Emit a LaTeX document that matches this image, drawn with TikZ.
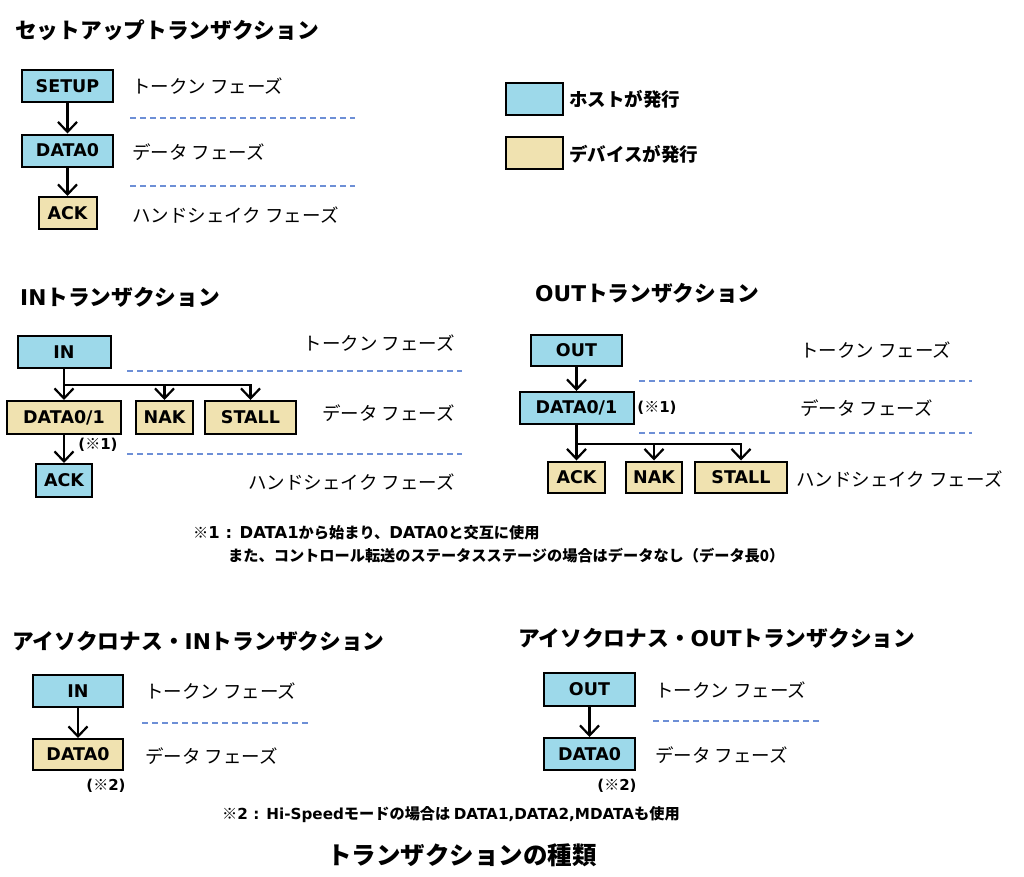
\documentclass[tikz,border=0pt]{standalone}
\usepackage{fontspec}
\setmainfont{Noto Sans CJK JP}
\newfontfamily\dvfont{DejaVu Sans}
\usetikzlibrary{arrows.meta}
\definecolor{hostc}{HTML}{9DD9EA}
\definecolor{devc}{HTML}{F0E2B0}
\definecolor{sepc}{HTML}{6D8FD6}
\newcommand\latn[1]{{\dvfont\bfseries #1}}
\newcommand\latnb[1]{{\dvfont\bfseries\fontsize{16.4}{16.4}\selectfont #1}}
\tikzset{
  pbox/.style={draw=black, line width=2pt, minimum height=32pt, inner sep=0pt,
    font=\dvfont\bfseries\fontsize{17.5}{17.5}\selectfont},
  host/.style={pbox, fill=hostc},
  dev/.style={pbox, fill=devc},
  arr/.style={line width=2.2pt, -{Straight Barb[length=10pt,width=19pt]}},
  phase/.style={anchor=west, inner sep=0pt, font=\fontsize{18.5}{18.5}\selectfont},
  phaser/.style={phase, anchor=east},
  legtxt/.style={anchor=west, inner sep=0pt, font=\bfseries\fontsize{18.5}{18.5}\selectfont},
  ttl/.style={anchor=west, inner sep=0pt, font=\bfseries\fontsize{21.7}{21.7}\selectfont},
  note/.style={anchor=west, inner sep=0pt, font=\bfseries\fontsize{15.2}{15.2}\selectfont},
  ref/.style={inner sep=0pt, font=\bfseries\fontsize{15}{15}\selectfont},
  sep/.style={draw=sepc, line width=1.5pt, dash pattern=on 6pt off 4pt},
}
\begin{document}
\begin{tikzpicture}[x=1pt,y=-1pt]
\useasboundingbox (0,0) rectangle (1024,876);

% ---------- Setup transaction ----------
\node[ttl] (t1) at (15,30) {セットアップトランザクション};
\node[host, minimum width=91pt] (setup) at (67.5,86) {SETUP};
\node[host, minimum width=91pt] (sdata) at (67.5,150.5) {DATA0};
\node[dev, minimum width=58pt] (sack) at (67.5,213) {ACK};
\draw[arr] (setup.south) -- (sdata.north);
\draw[arr] (sdata.south) -- (sack.north);
\node[phase] (s1) at (132,86) {トークン フェーズ};
\node[phase] (s2) at (132,152) {データ フェーズ};
\node[phase] (s3) at (132,215) {ハンドシェイク フェーズ};
\draw[sep] (130,118) -- (355,118);
\draw[sep] (130,186) -- (355,186);

% ---------- Legend ----------
\node[host, minimum width=57pt] (lh) at (534.5,99) {};
\node[legtxt] (lht) at (569,99) {ホストが発行};
\node[dev, minimum width=57pt] (ld) at (534.5,153) {};
\node[legtxt] (ldt) at (569,154) {デバイスが発行};

% ---------- IN transaction ----------
\node[ttl] (t2) at (20,297) {\latn{IN}トランザクション};
\node[host, minimum width=93pt] (in) at (64,352) {IN};
\node[dev, minimum width=114pt, minimum height=33pt] (indata) at (64,417.5) {DATA0/1};
\node[dev, minimum width=57pt, minimum height=33pt] (innak) at (164.5,417.5) {NAK};
\node[dev, minimum width=91pt, minimum height=33pt] (install) at (250.5,417.5) {STALL};
\node[host, minimum width=56pt, minimum height=33pt] (inack) at (64,480.5) {ACK};
\coordinate (inb) at (64,385);
\draw[arr] (in.south) -- (indata.north);
\draw[arr] (inb) -| (install.north);
\draw[arr] (inb -| innak.north) -- (innak.north);
\draw[arr] (indata.south) -- (inack.north);
\node[ref] (r1) at (98,445) {\latn{(}※\latn{1)}};
\draw[sep] (127,371) -- (462,371);
\draw[sep] (127,454) -- (462,454);
\node[phaser] (i1) at (455,343) {トークン フェーズ};
\node[phaser] (i2) at (455,413) {データ フェーズ};
\node[phaser] (i3) at (455,482) {ハンドシェイク フェーズ};

% ---------- OUT transaction ----------
\node[ttl] (t3) at (535,293) {\latn{OUT}トランザクション};
\node[host, minimum width=91pt, minimum height=31pt] (out) at (576.5,350) {OUT};
\node[host, minimum width=114pt] (odata) at (576.5,408) {DATA0/1};
\node[dev, minimum width=57pt, minimum height=31pt] (oack) at (576.5,477) {ACK};
\node[dev, minimum width=56pt, minimum height=31pt] (onak) at (654,477) {NAK};
\node[dev, minimum width=92pt, minimum height=31pt] (ostall) at (741,477) {STALL};
\coordinate (ob) at (576.5,444);
\draw[arr] (out.south) -- (odata.north);
\draw[arr] (odata.south) -- (oack.north);
\draw[arr] (ob) -| (ostall.north);
\draw[arr] (ob -| onak.north) -- (onak.north);
\node[ref] (r2) at (657,408) {\latn{(}※\latn{1)}};
\draw[sep] (639,381) -- (972,381);
\draw[sep] (639,433) -- (972,433);
\node[phase] (o1) at (800,350) {トークン フェーズ};
\node[phase] (o2) at (800,408) {データ フェーズ};
\node[phase] (o3) at (796,479) {ハンドシェイク フェーズ};

% ---------- Note 1 ----------
\node[note] (n1a) at (193,533) {※\latnb{1 : DATA1}から始まり、\latnb{DATA0}と交互に使用};
\node[note] (n1b) at (228,556) {また、コントロール転送のステータスステージの場合はデータなし（データ長0）};

% ---------- Isochronous IN ----------
\node[ttl] (t4) at (12,641) {アイソクロナス・\latn{IN}トランザクション};
\node[host, minimum width=90pt] (iin) at (78,691) {IN};
\node[dev, minimum width=90pt, minimum height=31pt] (idata) at (78,754.5) {DATA0};
\draw[arr] (iin.south) -- (idata.north);
\node[ref] (r3) at (106,786) {\latn{(}※\latn{2)}};
\node[phase] (ii1) at (145,691) {トークン フェーズ};
\node[phase] (ii2) at (145,756) {データ フェーズ};
\draw[sep] (142,723) -- (310,723);

% ---------- Isochronous OUT ----------
\node[ttl] (t5) at (518,638) {アイソクロナス・\latn{OUT}トランザクション};
\node[host, minimum width=91pt, minimum height=33pt] (iout) at (589.5,689.5) {OUT};
\node[host, minimum width=91pt] (iodata) at (589.5,754) {DATA0};
\draw[arr] (iout.south) -- (iodata.north);
\node[ref] (r4) at (617,786) {\latn{(}※\latn{2)}};
\node[phase] (io1) at (655,690) {トークン フェーズ};
\node[phase] (io2) at (655,755) {データ フェーズ};
\draw[sep] (653,721) -- (822,721);

% ---------- Note 2 and caption ----------
\node[note] (n2) at (222,815) {※\latn{2 : Hi-Speed}モードの場合は \latn{DATA1,DATA2,MDATA}も使用};
\node[inner sep=0pt, font=\bfseries\fontsize{24.5}{24.5}\selectfont] (cap) at (462,855) {トランザクションの種類};
\end{tikzpicture}
\end{document}
